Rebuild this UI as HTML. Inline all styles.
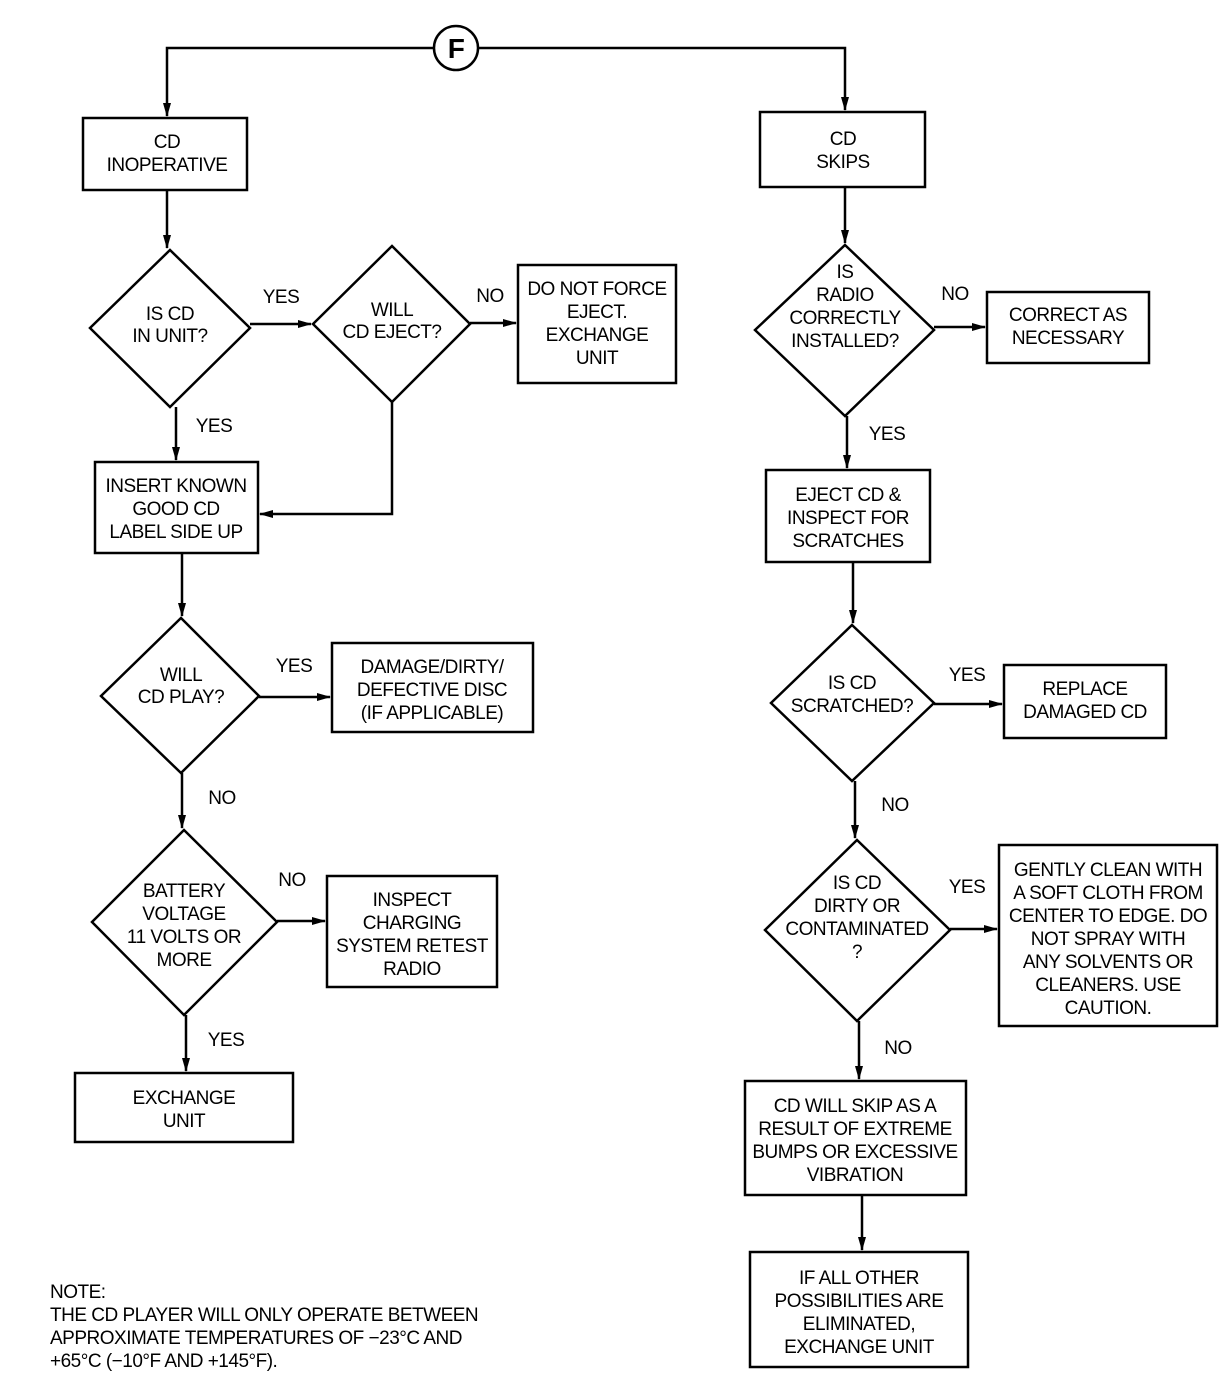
<!DOCTYPE html>
<html><head><meta charset="utf-8"><style>
html,body{margin:0;padding:0;background:#fff;}
svg{display:block;}
text{font-family:"Liberation Sans",sans-serif;font-size:19px;fill:#000;text-anchor:middle;letter-spacing:-0.5px;}
.l{text-anchor:start;}
</style></head><body>
<svg width="1232" height="1378" viewBox="0 0 1232 1378" xmlns="http://www.w3.org/2000/svg">
<defs><marker id="a" markerWidth="10" markerHeight="10" refX="9" refY="5" orient="auto" markerUnits="userSpaceOnUse"><path d="M0,0 L10,5 L0,10 Z" fill="#000"/></marker>
<marker id="b" markerWidth="14" markerHeight="10" refX="13" refY="5" orient="auto" markerUnits="userSpaceOnUse"><path d="M0,1 L14,5 L0,9 Z" fill="#000"/></marker></defs>
<g fill="none" stroke="#000" stroke-width="2.5">
<circle cx="456" cy="48" r="22"/>
<polyline points="434,48 167,48 167,116" marker-end="url(#b)"/>
<polyline points="478,48 845,48 845,110" marker-end="url(#b)"/>
<!-- left -->
<rect x="83" y="118" width="164" height="72"/>
<line x1="167" y1="190" x2="167" y2="248" marker-end="url(#b)"/>
<polygon points="170,250 250,328 170,407 90,328"/>
<line x1="250" y1="324" x2="311" y2="324" marker-end="url(#b)"/>
<polygon points="392,246 470,324 392,402 313,324"/>
<line x1="470" y1="323" x2="516" y2="323" marker-end="url(#b)"/>
<rect x="518" y="265" width="158" height="118"/>
<polyline points="392,402 392,514 260,514" marker-end="url(#b)"/>
<line x1="176" y1="407" x2="176" y2="460" marker-end="url(#b)"/>
<rect x="95" y="462" width="163" height="91"/>
<line x1="182" y1="553" x2="182" y2="616" marker-end="url(#b)"/>
<polygon points="181,618 259,696 181,773 101,696"/>
<line x1="259" y1="697" x2="330" y2="697" marker-end="url(#b)"/>
<rect x="332" y="643" width="201" height="89"/>
<line x1="182" y1="773" x2="182" y2="828" marker-end="url(#b)"/>
<polygon points="184,830 277,922 184,1015 92,922"/>
<line x1="277" y1="921" x2="325" y2="921" marker-end="url(#b)"/>
<rect x="327" y="876" width="170" height="111"/>
<line x1="186" y1="1015" x2="186" y2="1071" marker-end="url(#b)"/>
<rect x="75" y="1073" width="218" height="69"/>
<!-- right -->
<rect x="760" y="112" width="165" height="75"/>
<line x1="845" y1="187" x2="845" y2="243" marker-end="url(#b)"/>
<polygon points="845,245 934,330 845,416 755,330"/>
<line x1="934" y1="327" x2="985" y2="327" marker-end="url(#b)"/>
<rect x="987" y="292" width="162" height="71"/>
<line x1="847" y1="416" x2="847" y2="468" marker-end="url(#b)"/>
<rect x="766" y="470" width="164" height="92"/>
<line x1="853" y1="562" x2="853" y2="623" marker-end="url(#b)"/>
<polygon points="852,625 934,703 852,781 771,703"/>
<line x1="934" y1="704" x2="1002" y2="704" marker-end="url(#b)"/>
<rect x="1004" y="665" width="162" height="73"/>
<line x1="855" y1="781" x2="855" y2="838" marker-end="url(#b)"/>
<polygon points="857,840 950,930 857,1021 765,930"/>
<line x1="950" y1="929" x2="997" y2="929" marker-end="url(#b)"/>
<rect x="999" y="845" width="218" height="181"/>
<line x1="859" y1="1021" x2="859" y2="1079" marker-end="url(#b)"/>
<rect x="745" y="1081" width="221" height="114"/>
<line x1="862" y1="1195" x2="862" y2="1250" marker-end="url(#b)"/>
<rect x="750" y="1252" width="218" height="115"/>
</g>
<text x="456" y="58" style="font-size:28px;font-weight:bold">F</text>
<text x="167" y="148">CD</text><text x="167" y="171">INOPERATIVE</text>
<text x="170" y="320">IS CD</text><text x="170" y="342">IN UNIT?</text>
<text x="281" y="303">YES</text>
<text x="392" y="316">WILL</text><text x="392" y="338">CD EJECT?</text>
<text x="490" y="302">NO</text>
<text x="597" y="295">DO NOT FORCE</text><text x="597" y="318">EJECT.</text><text x="597" y="341">EXCHANGE</text><text x="597" y="364">UNIT</text>
<text x="214" y="432">YES</text>
<text x="176" y="492">INSERT KNOWN</text><text x="176" y="515">GOOD CD</text><text x="176" y="538">LABEL SIDE UP</text>
<text x="181" y="681">WILL</text><text x="181" y="703">CD PLAY?</text>
<text x="294" y="672">YES</text>
<text x="432" y="673">DAMAGE/DIRTY/</text><text x="432" y="696">DEFECTIVE DISC</text><text x="432" y="719">(IF APPLICABLE)</text>
<text x="222" y="804">NO</text>
<text x="184" y="897">BATTERY</text><text x="184" y="920">VOLTAGE</text><text x="184" y="943">11 VOLTS OR</text><text x="184" y="966">MORE</text>
<text x="292" y="886">NO</text>
<text x="412" y="906">INSPECT</text><text x="412" y="929">CHARGING</text><text x="412" y="952">SYSTEM RETEST</text><text x="412" y="975">RADIO</text>
<text x="226" y="1046">YES</text>
<text x="184" y="1104">EXCHANGE</text><text x="184" y="1127">UNIT</text>
<text class="l" x="50" y="1298">NOTE:</text>
<text class="l" x="50" y="1321">THE CD PLAYER WILL ONLY OPERATE BETWEEN</text>
<text class="l" x="50" y="1344">APPROXIMATE TEMPERATURES OF −23°C AND</text>
<text class="l" x="50" y="1367">+65°C (−10°F AND +145°F).</text>
<text x="843" y="145">CD</text><text x="843" y="168">SKIPS</text>
<text x="845" y="278">IS</text><text x="845" y="301">RADIO</text><text x="845" y="324">CORRECTLY</text><text x="845" y="347">INSTALLED?</text>
<text x="955" y="300">NO</text>
<text x="1068" y="321">CORRECT AS</text><text x="1068" y="344">NECESSARY</text>
<text x="887" y="440">YES</text>
<text x="848" y="501">EJECT CD &amp;</text><text x="848" y="524">INSPECT FOR</text><text x="848" y="547">SCRATCHES</text>
<text x="852" y="689">IS CD</text><text x="852" y="712">SCRATCHED?</text>
<text x="967" y="681">YES</text>
<text x="1085" y="695">REPLACE</text><text x="1085" y="718">DAMAGED CD</text>
<text x="895" y="811">NO</text>
<text x="857" y="889">IS CD</text><text x="857" y="912">DIRTY OR</text><text x="857" y="935">CONTAMINATED</text><text x="857" y="958">?</text>
<text x="967" y="893">YES</text>
<text x="1108" y="876">GENTLY CLEAN WITH</text><text x="1108" y="899">A SOFT CLOTH FROM</text><text x="1108" y="922">CENTER TO EDGE. DO</text><text x="1108" y="945">NOT SPRAY WITH</text><text x="1108" y="968">ANY SOLVENTS OR</text><text x="1108" y="991">CLEANERS. USE</text><text x="1108" y="1014">CAUTION.</text>
<text x="898" y="1054">NO</text>
<text x="855" y="1112">CD WILL SKIP AS A</text><text x="855" y="1135">RESULT OF EXTREME</text><text x="855" y="1158">BUMPS OR EXCESSIVE</text><text x="855" y="1181">VIBRATION</text>
<text x="859" y="1284">IF ALL OTHER</text><text x="859" y="1307">POSSIBILITIES ARE</text><text x="859" y="1330">ELIMINATED,</text><text x="859" y="1353">EXCHANGE UNIT</text>
</svg>
</body></html>
